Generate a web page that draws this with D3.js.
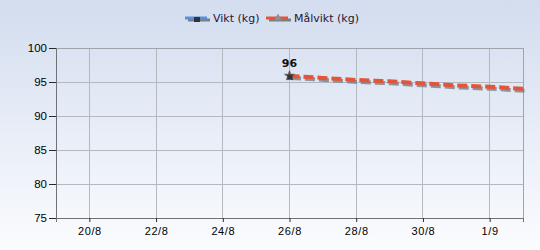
<!DOCTYPE html>
<html>
<head>
<meta charset="utf-8">
<script src="https://cdn.jsdelivr.net/npm/d3@7"></script>
<style>
  body { margin: 0; }
  svg { display: block; font-family: "DejaVu Sans", Verdana, sans-serif; }
</style>
</head>
<body>
<script>
// data
var xTicks = ["2024-08-20", "2024-08-22", "2024-08-24", "2024-08-26", "2024-08-28", "2024-08-30", "2024-09-01"];
var viktDates = ["2024-08-26"];
var viktValues = [96];
var malDates = ["2024-08-26", "2024-08-27", "2024-08-28", "2024-08-29", "2024-08-30", "2024-08-31", "2024-09-01", "2024-09-02"];
var malValues = [95.9, 95.6, 95.3, 95.1, 94.8, 94.5, 94.3, 94.0];
var yTicks = [75, 80, 85, 90, 95, 100];

var W = 540, H = 250;
var margin = {top: 48, right: 17, bottom: 32, left: 56};
var width = W - margin.left - margin.right, height = H - margin.top - margin.bottom;
var parse = d3.timeParse("%Y-%m-%d");

var svg = d3.select("body").append("svg")
    .attr("width", W)
    .attr("height", H);

var defs = svg.append("defs");
var grad = defs.append("linearGradient").attr("id", "bg").attr("x1", 0).attr("y1", 0).attr("x2", 0).attr("y2", 1);
grad.append("stop").attr("offset", "0%").attr("stop-color", "#d3ddef");
grad.append("stop").attr("offset", "100%").attr("stop-color", "#fbfcfe");
svg.append("rect").attr("width", W).attr("height", H).attr("fill", "url(#bg)");

var x = d3.scaleTime()
    .domain([parse("2024-08-19"), parse("2024-09-02")])
    .range([0, width]);
var y = d3.scaleLinear().domain([75, 100]).range([height, 0]);

var g = svg.append("g").attr("transform", "translate(" + margin.left + "," + margin.top + ")");

// grid
g.append("g").selectAll("line").data(xTicks).join("line")
    .attr("x1", d => x(parse(d))).attr("x2", d => x(parse(d)))
    .attr("y1", 0).attr("y2", height)
    .attr("stroke", "#b4b8bf").attr("stroke-width", 1).attr("shape-rendering", "crispEdges");
g.append("g").selectAll("line").data(yTicks).join("line")
    .attr("x1", 0).attr("x2", width)
    .attr("y1", d => y(d)).attr("y2", d => y(d))
    .attr("stroke", "#b4b8bf").attr("stroke-width", 1).attr("shape-rendering", "crispEdges");
g.append("rect").attr("width", width).attr("height", height)
    .attr("fill", "none").attr("stroke", "#a0a4ab").attr("shape-rendering", "crispEdges");

// axes
var xAxis = g.append("g")
    .attr("transform", "translate(0," + height + ")")
    .call(d3.axisBottom(x).tickValues(xTicks.map(parse)).tickFormat(d3.timeFormat("%-d/%-m")).tickSize(4).tickPadding(5));
var yAxis = g.append("g")
    .call(d3.axisLeft(y).tickValues(yTicks).tickSize(7).tickPadding(2));
[xAxis, yAxis].forEach(function(a) {
    a.select(".domain").attr("stroke", "#6e7178");
    a.selectAll(".tick line").attr("stroke", "#2a2a2a");
    a.selectAll("text").attr("fill", "#000").attr("font-size", "11px").attr("letter-spacing", "0.6px");
});
yAxis.selectAll("text").attr("letter-spacing", "0px").attr("font-size", "11.5px");

// lines
var mal = malDates.map((d, i) => ({date: parse(d), value: malValues[i]}));
var line = d3.line().x(d => x(d.date)).y(d => y(d.value));
g.append("path").datum(mal)
    .attr("d", line).attr("transform", "translate(1.5,2)")
    .attr("fill", "none").attr("stroke", "#7a7d84").attr("stroke-width", 4)
    .attr("stroke-dasharray", "10,4").attr("opacity", 0.8);
g.append("path").datum(mal)
    .attr("d", line)
    .attr("fill", "none").attr("stroke", "#e2553a").attr("stroke-width", 4)
    .attr("stroke-dasharray", "10,4");

var vikt = viktDates.map((d, i) => ({date: parse(d), value: viktValues[i]}));
g.selectAll(".mstar").data(mal.slice(0, 1)).join("path")
    .attr("transform", d => "translate(" + x(d.date) + "," + y(d.value) + ")")
    .attr("d", d3.symbol(d3.symbolStar, 30))
    .attr("fill", "#a33a2c").attr("stroke", "#555").attr("stroke-width", 0.8);
g.selectAll(".vpt").data(vikt).join("rect")
    .attr("x", d => x(d.date) - 2).attr("y", d => y(d.value) - 0.5)
    .attr("width", 5).attr("height", 5)
    .attr("fill", "#2c3440");
g.selectAll(".vlab").data(vikt).join("text")
    .attr("x", d => x(d.date)).attr("y", d => y(d.value) - 8)
    .attr("text-anchor", "middle").attr("font-size", "11px").attr("font-weight", "bold").attr("fill", "#111")
    .text(d => d.value);

// legend
var legend = [
    {name: "Vikt (kg)", color: "#5b8fdc", x: 185},
    {name: "Målvikt (kg)", color: "#e2553a", x: 266}
];
var lg = svg.append("g").selectAll("g").data(legend).join("g")
    .attr("transform", d => "translate(" + d.x + ",18)");
lg.append("line").attr("x1", 3).attr("x2", 25).attr("y1", 2).attr("y2", 2)
    .attr("stroke", "#7a7d84").attr("stroke-width", 3);
lg.append("line").attr("x1", 0).attr("x2", 22).attr("y1", 0).attr("y2", 0)
    .attr("stroke", d => d.color).attr("stroke-width", 3);
lg.filter((d, i) => i === 0).append("rect")
    .attr("x", 9).attr("y", -1).attr("width", 6).attr("height", 5).attr("fill", "#2c3440");
lg.filter((d, i) => i === 1).append("path")
    .attr("transform", "translate(12,0)")
    .attr("d", d3.symbol(d3.symbolTriangle, 25))
    .attr("fill", "#8a8f99");
lg.append("text").attr("x", 28).attr("y", 4)
    .attr("font-size", "11px").attr("fill", "#2a1530")
    .text(d => d.name);
</script>
</body>
</html>
